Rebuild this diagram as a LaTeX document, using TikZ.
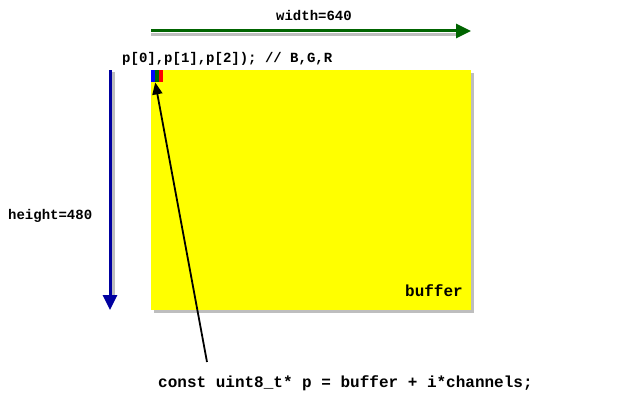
\documentclass[tikz,border=0pt]{standalone}
\usepackage{fontspec}
\setmonofont{Liberation Mono}
\usetikzlibrary{arrows.meta}
\definecolor{dgreen}{RGB}{0,100,0}
\definecolor{dblue}{RGB}{0,0,160}
\definecolor{pyellow}{RGB}{255,255,0}
\definecolor{pblue}{RGB}{0,0,255}
\definecolor{pred}{RGB}{255,0,0}
\definecolor{shadowgray}{RGB}{190,190,190}
\tikzset{
  lbl/.style={font=\ttfamily\bfseries\fontsize{14}{14}\selectfont, inner sep=0pt},
  biglbl/.style={font=\ttfamily\bfseries\fontsize{16}{16}\selectfont, inner sep=0pt},
  dimarrow/.style={line width=3pt, -{Triangle[length=15pt,width=14pt]}},
  shadowline/.style={line width=3pt, shadowgray},
  pix/.style={minimum width=3.8pt, minimum height=12pt, inner sep=0pt, draw=none, anchor=north west}
}
\begin{document}
\begin{tikzpicture}[x=1pt,y=-1pt]
\useasboundingbox (0,0) rectangle (639,404);
% buffer rectangle with shadow
\fill[shadowgray] (154,73) rectangle (474,313);
\node[fill=pyellow, minimum width=320pt, minimum height=240pt, inner sep=0pt, anchor=north west] (buf) at (151,70) {};
\node[biglbl, anchor=base east] (buflbl) at (463,296) {buffer};
% pixels
\node[pix, fill=pblue] (pb) at (151,70) {};
\node[pix, fill=dgreen] (pg) at (154.8,70) {};
\node[pix, fill=pred] (pr) at (158.6,70) {};
% width arrow
\coordinate (w0) at (151,31);
\coordinate (w1) at (471,31);
\draw[shadowline] (151,34.5) -- (458,34.5);
\draw[dimarrow, dgreen] (w0) -- (w1);
\node[lbl] (wl) at (314,15) {width=640};
% height arrow
\coordinate (h0) at (110,70);
\coordinate (h1) at (110,310);
\draw[shadowline] (113.5,72) -- (113.5,296);
\draw[dimarrow, dblue] (h0) -- (h1);
\node[lbl, anchor=west] (hl) at (8,216) {height=480};
% code comment
\node[lbl, anchor=west] (cl) at (122,59) {p[0],p[1],p[2]); // B,G,R};
% bottom text and pointer
\node[biglbl, anchor=west] (code) at (158,383) {const uint8\_t* p = buffer + i*channels;};
\coordinate (ptail) at (207,362);
\draw[line width=1.8pt, -{Triangle[length=12pt,width=10pt]}] (ptail) -- (pb.south east);
\end{tikzpicture}
\end{document}
